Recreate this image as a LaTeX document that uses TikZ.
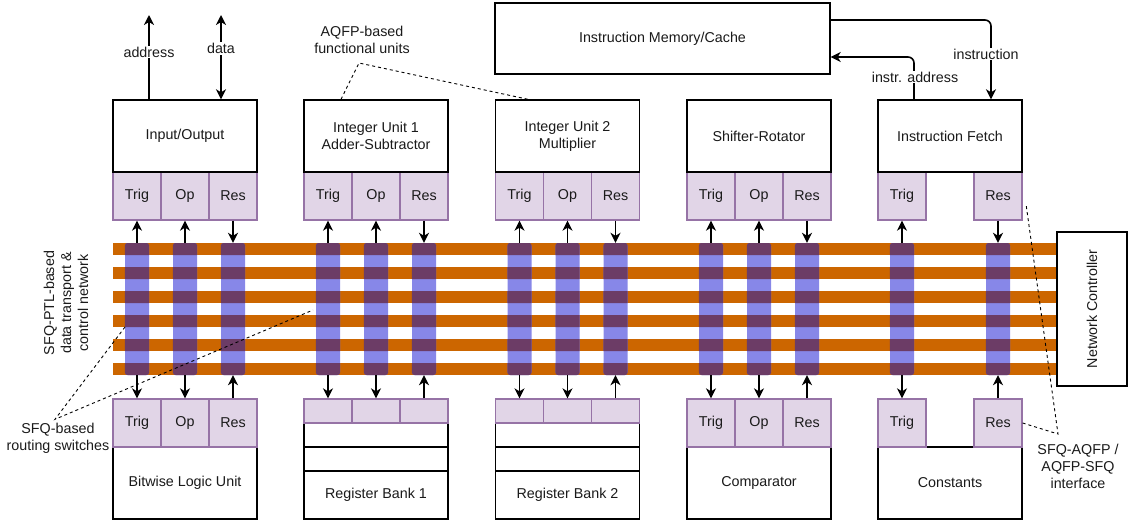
\documentclass[tikz,border=0pt]{standalone}
\usepackage{fontspec}
\setmainfont{Liberation Sans}
\usetikzlibrary{arrows.meta}

\definecolor{busorange}{HTML}{CC6600}
\definecolor{swblue}{HTML}{8787E8}
\definecolor{swdark}{HTML}{6C3C66}
\definecolor{cellfill}{HTML}{E1D5E7}
\definecolor{cellline}{HTML}{9673A6}
\definecolor{txt}{HTML}{1A1A1A}

\tikzset{
	unit/.style={draw, line width=1.4pt, fill=white, minimum width=144pt, inner sep=0pt, align=center},
	cell/.style={draw=cellline, line width=1.3pt, fill=cellfill, minimum width=48pt, minimum height=48pt, inner sep=0pt},
	regcell/.style={cell, minimum height=24pt},
	switch/.style={fill=swblue, rounded corners=3pt, minimum width=24pt, minimum height=132pt, inner sep=0pt},
	link/.style={line width=1.6pt, ->},
	note/.style={line width=0.9pt, dash pattern=on 3pt off 3pt},
	lbl/.style={fill=white, inner sep=1pt, align=center},
}

\begin{document}
\begin{tikzpicture}[x=1pt, y=-1pt, text=txt, font=\fontsize{14.3}{17}\selectfont,
	>={Stealth[length=10pt, width=10pt, inset=3pt]}]
	
	\useasboundingbox (0,0) rectangle (1129,522);
	
	% data transport network
	\foreach \y in {249,273,...,369}
		\fill[busorange] (113,\y-6) rectangle (1057,\y+6);
	\foreach \x [count=\i] in {137,185,233,328,376,424,519.5,567.5,615.5,711,759,807,902,998}
		\node[switch] (sw\i) at (\x,309) {};
	\begin{scope}
		\clip foreach \y in {249,273,...,369} {(113,\y-6) rectangle (1057,\y+6)};
		\foreach \i in {1,...,14}
			\fill[swdark, rounded corners=3pt] (sw\i.south west) rectangle (sw\i.north east);
	\end{scope}
	
	\node[draw, line width=1.4pt, fill=white, minimum width=154pt, minimum height=70pt, rotate=90] (nc) at (1092,309) {Network Controller};
	\node[rotate=90, align=center] (ptl) at (66,303) {SFQ-PTL-based\\data transport \&\\control network};
	
	% instruction memory
	\node[unit, minimum width=335pt, minimum height=71pt] (imc) at (662.5,38.5) {Instruction Memory/Cache};
	
	% top units
	\node[cell] (io-trig) at (137,196) {Trig};
	\node[cell] (io-op) at (185,196) {Op};
	\node[cell] (io-res) at (233,196) {Res};
	\node[unit, minimum height=72pt] (io) at (185,136) {Input/Output};
	
	\node[cell] (iu1-trig) at (328,196) {Trig};
	\node[cell] (iu1-op) at (376,196) {Op};
	\node[cell] (iu1-res) at (424,196) {Res};
	\node[unit, minimum height=72pt] (iu1) at (376,136) {Integer Unit 1\\Adder-Subtractor};
	
	\node[cell] (iu2-trig) at (519.5,196) {Trig};
	\node[cell] (iu2-op) at (567.5,196) {Op};
	\node[cell] (iu2-res) at (615.5,196) {Res};
	\node[unit, minimum height=72pt] (iu2) at (567.5,136) {Integer Unit 2\\Multiplier};
	
	\node[cell] (sr-trig) at (711,196) {Trig};
	\node[cell] (sr-op) at (759,196) {Op};
	\node[cell] (sr-res) at (807,196) {Res};
	\node[unit, minimum height=72pt] (sr) at (759,136) {Shifter-Rotator};
	
	\node[cell] (if-trig) at (902,196) {Trig};
	\node[cell] (if-res) at (998,196) {Res};
	\node[unit, minimum height=72pt] (if) at (950,136) {Instruction Fetch};
	
	% bottom units
	\node[unit, minimum height=72pt] (blu) at (185,483) {Bitwise Logic Unit};
	\node[cell] (blu-trig) at (137,423) {Trig};
	\node[cell] (blu-op) at (185,423) {Op};
	\node[cell] (blu-res) at (233,423) {Res};
	
	\node[unit, minimum height=24pt] (rb1-r1) at (376,435) {};
	\node[unit, minimum height=24pt] (rb1-r2) at (376,459) {};
	\node[unit, minimum height=48pt] (rb1) at (376,495) {Register Bank 1};
	\node[regcell] (rb1-trig) at (328,411) {};
	\node[regcell] (rb1-op) at (376,411) {};
	\node[regcell] (rb1-res) at (424,411) {};
	
	\node[unit, minimum height=24pt] (rb2-r1) at (567.5,435) {};
	\node[unit, minimum height=24pt] (rb2-r2) at (567.5,459) {};
	\node[unit, minimum height=48pt] (rb2) at (567.5,495) {Register Bank 2};
	\node[regcell] (rb2-trig) at (519.5,411) {};
	\node[regcell] (rb2-op) at (567.5,411) {};
	\node[regcell] (rb2-res) at (615.5,411) {};
	
	\node[unit, minimum height=72pt] (cmp) at (759,483) {Comparator};
	\node[cell] (cmp-trig) at (711,423) {Trig};
	\node[cell] (cmp-op) at (759,423) {Op};
	\node[cell] (cmp-res) at (807,423) {Res};
	
	\node[unit, minimum height=72pt] (cst) at (950,483) {Constants};
	\node[cell] (cst-trig) at (902,423) {Trig};
	\node[cell] (cst-res) at (998,423) {Res};
	
	% network ports
	\foreach \u/\a/\b/\c in {io/1/2/3, iu1/4/5/6, iu2/7/8/9, sr/10/11/12} {
		\draw[link] (sw\a.north) -- (\u-trig.south);
		\draw[link] (sw\b.north) -- (\u-op.south);
		\draw[link] (\u-res.south) -- (sw\c.north);
	}
	\draw[link] (sw13.north) -- (if-trig.south);
	\draw[link] (if-res.south) -- (sw14.north);
	\foreach \u/\a/\b/\c in {blu/1/2/3, rb1/4/5/6, rb2/7/8/9, cmp/10/11/12} {
		\draw[link] (sw\a.south) -- (\u-trig.north);
		\draw[link] (sw\b.south) -- (\u-op.north);
		\draw[link] (\u-res.north) -- (sw\c.south);
	}
	\draw[link] (sw13.south) -- (cst-trig.north);
	\draw[link] (cst-res.north) -- (sw14.south);
	
	% memory interface
	\coordinate (addr) at (149,15);
	\coordinate (data) at (221,15);
	\draw[link] (io.north -| addr) -- (addr) node[lbl, pos=0.56] {address};
	\draw[link, <->] (data) -- (io.north -| data) node[lbl, pos=0.4] {data};
	\draw[link, rounded corners=6pt] (imc.east |- 0,20) -| ([xshift=41pt]if.north);
	\draw[link, rounded corners=6pt] ([xshift=-36pt]if.north) |- (imc.east |- 0,57);
	\node[lbl] (ins) at (986,54) {instruction};
	\node[lbl] (insaddr) at (915,77) {instr. address};
	
	% annotations
	\node[align=center] (aqfp) at (362,40) {AQFP-based\\functional units};
	\coordinate (aqfp-c) at (359,63);
	\draw[note] ([xshift=-35pt]iu1.north) -- (aqfp-c) -- ([xshift=-39.5pt]iu2.north);
	
	\node[align=center] (rsw) at (58,438) {SFQ-based\\routing switches};
	\coordinate (rsw-a) at (125,327);
	\coordinate (rsw-b) at (313,310);
	\draw[note] (rsw-a) -- ([xshift=-3pt]rsw.north) -- (rsw-b);
	
	\node[align=center] (ifc) at (1078,466) {SFQ-AQFP /\\AQFP-SFQ\\interface};
	\coordinate (ifc-c) at (1058,434);
	\coordinate (ifc-top) at (1026,204);
	\draw[note] (cst-res.east) -- (ifc-c) -- (ifc-top);
	
\end{tikzpicture}
\end{document}
